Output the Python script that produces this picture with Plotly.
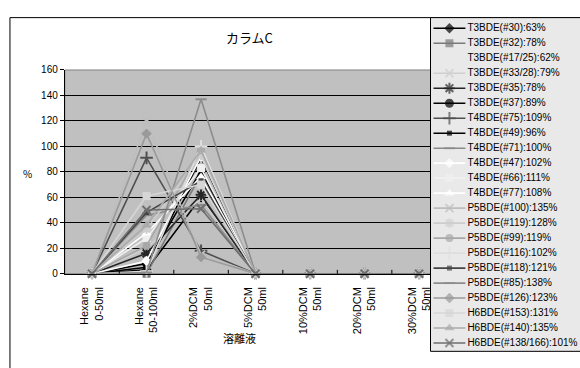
import plotly.graph_objects as go

W, H = 580, 368

categories = ["Hexane<br>0-50ml", "Hexane<br>50-100ml", "2%DCM<br>50ml", "5%DCM<br>50ml",
              "10%DCM<br>50ml", "20%DCM<br>50ml", "30%DCM<br>50ml"]

congeners = ["T3BDE(#30):63%", "T3BDE(#32):78%", "T3BDE(#17/25):62%", "T3BDE(#33/28):79%",
             "T3BDE(#35):78%", "T3BDE(#37):89%", "T4BDE(#75):109%", "T4BDE(#49):96%",
             "T4BDE(#71):100%", "T4BDE(#47):102%", "T4BDE(#66):111%", "T4BDE(#77):108%",
             "P5BDE(#100):135%", "P5BDE(#119):128%", "P5BDE(#99):119%", "P5BDE(#116):102%",
             "P5BDE(#118):121%", "P5BDE(#85):138%", "P5BDE(#126):123%", "H6BDE(#153):131%",
             "H6BDE(#140):135%", "H6BDE(#138/166):101%"]

# recovery (%) of each congener in each eluate fraction, in congener order
hexane_0_50 = [0, 0, 0, 0, 0, 0, 0, 0, 0, 0, 0, 0, 0, 0, 0, 0, 0, 0, 0, 0, 0, 0]
hexane_50_100 = [3, 0, 4, 20, 16, 8, 91, 5, 46, 10, 28, 32, 120, 35, 22, 2, 48, 1, 110, 61, 38, 50]
dcm2_50 = [60, 78, 58, 59, 62, 81, 18, 91, 54, 92, 83, 76, 15, 93, 97, 100, 73, 137, 13, 70, 97, 51]
dcm5_50 = [0, 0, 0, 0, 0, 0, 0, 0, 0, 0, 0, 0, 0, 0, 0, 0, 0, 0, 0, 0, 0, 0]
dcm10_50 = [0, 0, 0, 0, 0, 0, 0, 0, 0, 0, 0, 0, 0, 0, 0, 0, 0, 0, 0, 0, 0, 0]
dcm20_50 = [0, 0, 0, 0, 0, 0, 0, 0, 0, 0, 0, 0, 0, 0, 0, 0, 0, 0, 0, 0, 0, 0]
dcm30_50 = [0, 0, 0, 0, 0, 0, 0, 0, 0, 0, 0, 0, 0, 0, 0, 0, 0, 0, 0, 0, 0, 0]
fractions = [hexane_0_50, hexane_50_100, dcm2_50, dcm5_50, dcm10_50, dcm20_50, dcm30_50]

# line colour, marker symbol, marker size for each congener
styles = [
    ("#000000", "diamond", 8), ("#7a7a7a", "square", 8), ("rgba(0,0,0,0)", "circle", 0),
    ("#cfcfcf", "x-thin-open", 8), ("#262626", "asterisk-open", 9), ("#000000", "circle", 9),
    ("#505050", "cross-thin-open", 9), ("#000000", "square", 5), ("#8a8a8a", "line-ew-open", 8),
    ("#ffffff", "diamond", 8), ("#f0f0f0", "square", 8), ("#ffffff", "triangle-up", 9),
    ("#bdbdbd", "x-thin-open", 8), ("#cdcdcd", "asterisk-open", 8), ("#a8a8a8", "circle", 8),
    ("#dedede", "cross-thin-open", 9), ("#454545", "square", 5), ("#8c8c8c", "line-ew-open", 8),
    ("#9a9a9a", "diamond", 8), ("#d6d6d6", "square", 8), ("#ababab", "triangle-up", 9),
    ("#6e6e6e", "x-thin-open", 8),
]


def px_x(p):
    return p / W


def px_y(p):
    return 1 - p / H


PLOT_L, PLOT_R, PLOT_T, PLOT_B = 65, 431.5, 67, 277
LEG_L, LEG_T, LEG_B = 432, 13, 357
LEG_ROW0, LEG_STEP = 24, 15.45

BASE_FONT = "Arial, Liberation Sans, sans-serif"
JP_FONT = "Noto Sans CJK JP, sans-serif"

fig = go.Figure()


def marker_for(color, symbol, size):
    open_sym = symbol.endswith("-open")
    return dict(symbol=symbol, size=size, color=color,
                line=dict(color=color, width=2 if open_sym else 0))


for i, (name, (color, symbol, size)) in enumerate(zip(congeners, styles)):
    yvals = [frac[i] for frac in fractions]
    fig.add_trace(go.Scatter(
        x=categories, y=yvals, name=name, mode="lines+markers",
        line=dict(color=color, width=1.6),
        marker=marker_for(color, symbol, size),
        cliponaxis=False, showlegend=False, xaxis="x", yaxis="y"))

# legend keys drawn on a secondary, hidden pixel-scaled axis pair
for i, (color, symbol, size) in enumerate(styles):
    fig.add_trace(go.Scatter(
        x=[435, 451, 467], y=[i, i, i], mode="lines+markers",
        line=dict(color=color, width=1.6),
        marker=dict(symbol=symbol, size=[0, size, 0], color=color,
                    line=dict(color=color, width=2 if symbol.endswith("-open") else 0)),
        showlegend=False, hoverinfo="skip", xaxis="x2", yaxis="y2", cliponaxis=False))

fig.add_trace(go.Scatter(
    x=[469] * len(congeners), y=list(range(len(congeners))), text=congeners,
    mode="text", textposition="middle right",
    textfont=dict(family=BASE_FONT, size=10, color="#000000"),
    showlegend=False, hoverinfo="skip", xaxis="x2", yaxis="y2", cliponaxis=False))

# small inward tick marks between categories on the x axis
tick_len_frac = 4 / (PLOT_B - PLOT_T)
boundary_ticks = [
    dict(type="line", xref="x", yref="y domain", layer="above",
         x0=k + 0.5, x1=k + 0.5, y0=0, y1=tick_len_frac,
         line=dict(color="#000000", width=1))
    for k in range(len(categories) - 1)
]

fig.update_layout(
    width=W, height=H, autosize=False,
    margin=dict(l=0, r=0, t=0, b=0, pad=0),
    paper_bgcolor="#ffffff", plot_bgcolor="rgba(0,0,0,0)",
    font=dict(family=BASE_FONT, size=10, color="#000000"),
    xaxis=dict(
        domain=[px_x(PLOT_L), px_x(PLOT_R)], type="category",
        range=[-0.5, 6.2], ticks="outside", ticklen=8, tickcolor="rgba(0,0,0,0)",
        showgrid=False, showline=True, linecolor="#000000",
        linewidth=1, tickangle=-90, tickfont=dict(size=11, family=BASE_FONT),
        zeroline=False, fixedrange=True),
    yaxis=dict(
        domain=[px_y(PLOT_B), px_y(PLOT_T)], range=[0, 160], dtick=20,
        ticks="outside", ticklen=4, tickcolor="#000000", showgrid=True,
        gridcolor="#000000", gridwidth=1, showline=True, linecolor="#000000",
        linewidth=1, zeroline=False, tickfont=dict(size=10, family=BASE_FONT),
        fixedrange=True),
    xaxis2=dict(domain=[px_x(LEG_L + 1), 1], range=[LEG_L + 1, W], visible=False,
                fixedrange=True),
    yaxis2=dict(domain=[px_y(LEG_B), px_y(LEG_T)],
                range=[(LEG_B - LEG_ROW0) / LEG_STEP, (LEG_T - LEG_ROW0) / LEG_STEP],
                visible=False, fixedrange=True),
    shapes=[
        # chart frame
        dict(type="rect", xref="paper", yref="paper", layer="below",
             x0=px_x(10), x1=px_x(W + 20), y0=px_y(H + 20), y1=px_y(13),
             line=dict(color="#000000", width=1), fillcolor="#ffffff"),
        # plot area
        dict(type="rect", xref="paper", yref="paper", layer="below",
             x0=px_x(PLOT_L), x1=px_x(PLOT_R + 10), y0=px_y(PLOT_B), y1=px_y(PLOT_T),
             line=dict(color="#808080", width=1), fillcolor="#c0c0c0"),
        # legend box
        dict(type="rect", xref="paper", yref="paper", layer="below",
             x0=px_x(LEG_L), x1=px_x(W + 20), y0=px_y(LEG_B), y1=px_y(LEG_T),
             line=dict(color="#000000", width=1), fillcolor="#e9e9e9"),
    ] + boundary_ticks,
    annotations=[
        dict(text="カラムC", xref="paper", yref="paper", x=px_x(250), y=px_y(33),
             xanchor="center", yanchor="middle", showarrow=False,
             font=dict(family=JP_FONT, size=13, color="#000000")),
        dict(text="溶離液", xref="paper", yref="paper", x=px_x(240), y=px_y(343),
             xanchor="center", yanchor="middle", showarrow=False,
             font=dict(family=JP_FONT, size=11, color="#000000")),
        dict(text="%", xref="paper", yref="paper", x=px_x(28), y=px_y(174),
             xanchor="center", yanchor="middle", showarrow=False,
             font=dict(family=JP_FONT, size=10, color="#000000")),
    ],
)

fig.write_html("out.html")
